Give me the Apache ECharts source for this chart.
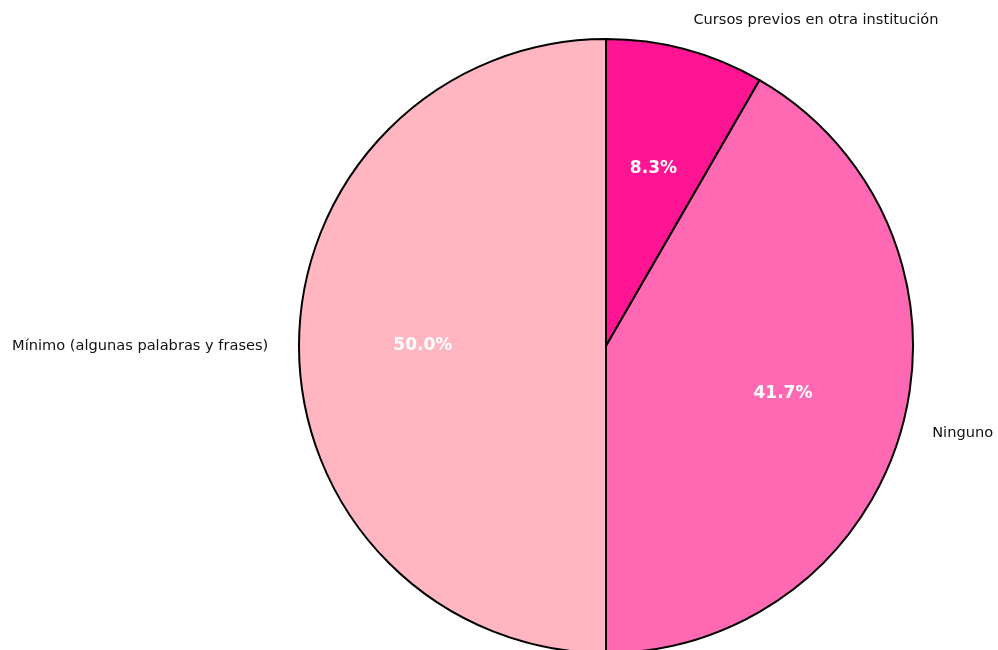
<!DOCTYPE html>
<html>
<head>
<meta charset="utf-8">
<script src="https://cdn.jsdelivr.net/npm/echarts@6/dist/echarts.min.js"></script>
<style>
html,body{margin:0;padding:0;background:#fff;}
#chart{width:998px;height:650px;}
</style>
</head>
<body>
<div id="chart"></div>
<script>
const categories = ['Cursos previos en otra institución', 'Ninguno', 'Mínimo (algunas palabras y frases)'];
const values = [1, 5, 6];
const colors = ['#FF1493', '#FF69B4', '#FFB6C1'];

const total = values.reduce((a, b) => a + b, 0);
const R = 307;
const CENTER = [606, 346];
const FONT = 'DejaVu Sans';

const data = categories.map((c, i) => ({
  name: c,
  value: values[i],
  itemStyle: { color: colors[i] }
}));

const chart = echarts.init(document.getElementById('chart'), null, { renderer: 'canvas' });
chart.setOption({
  animation: false,
  backgroundColor: '#ffffff',
  series: [
    {
      type: 'pie',
      center: CENTER,
      radius: [0, R],
      startAngle: 90,
      clockwise: true,
      avoidLabelOverlap: false,
      silent: true,
      emphasis: { disabled: true },
      itemStyle: { borderColor: '#000000', borderWidth: 2 },
      label: {
        show: true,
        position: 'outside',
        distanceToLabelLine: 0,
        color: '#111111',
        fontFamily: FONT,
        fontSize: 14.6,
        formatter: '{b}'
      },
      labelLine: { show: false, length: R * 0.1, length2: 0 },
      data: data
    },
    {
      type: 'pie',
      center: CENTER,
      radius: [R * 0.5 - 4, R * 0.7 - 4],
      startAngle: 90,
      clockwise: true,
      avoidLabelOverlap: false,
      silent: true,
      emphasis: { disabled: true },
      itemStyle: { color: 'rgba(0,0,0,0)', borderWidth: 0 },
      label: {
        show: true,
        position: 'inside',
        color: '#ffffff',
        fontFamily: FONT,
        fontWeight: 'bold',
        fontSize: 17,
        formatter: p => (p.value / total * 100).toFixed(1) + '%'
      },
      labelLine: { show: false },
      data: categories.map((c, i) => ({ name: c, value: values[i] }))
    }
  ]
});
</script>
</body>
</html>
